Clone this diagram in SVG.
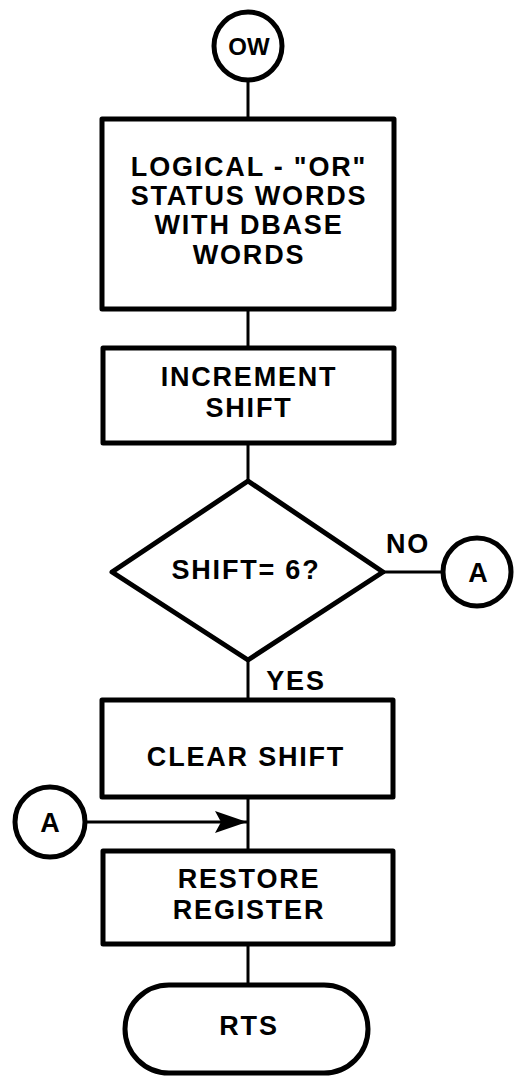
<svg xmlns="http://www.w3.org/2000/svg" width="516" height="1077" viewBox="0 0 516 1077">
<defs>
<style>
.shape{fill:#fff;stroke:#000;stroke-width:5;stroke-linejoin:round}
.conn{fill:none;stroke:#000;stroke-width:3}
text{font-family:"Liberation Sans",Arial,sans-serif;font-weight:bold;font-size:27px;letter-spacing:1.8px;fill:#000;text-anchor:middle}
</style>
<marker id="arrow" markerWidth="34" markerHeight="24" refX="32" refY="12" orient="auto" markerUnits="userSpaceOnUse">
<path d="M0,1 L32,12 L0,23 L6,12 Z" fill="#000"/>
</marker>
</defs>
<rect width="516" height="1077" fill="#fff"/>
<g id="connectors">
<line class="conn" x1="248" y1="80" x2="248" y2="119"/>
<line class="conn" x1="248" y1="309" x2="248" y2="348"/>
<line class="conn" x1="248" y1="443" x2="248" y2="481"/>
<line class="conn" x1="248" y1="660" x2="248" y2="700"/>
<line class="conn" x1="248" y1="797" x2="248" y2="851"/>
<line class="conn" x1="248" y1="944" x2="248" y2="985"/>
<line class="conn" x1="383" y1="572" x2="442" y2="572"/>
<line class="conn" x1="86" y1="822" x2="247" y2="822" marker-end="url(#arrow)"/>
<text x="408" y="553">NO</text>
<text x="296" y="690">YES</text>
</g>
<g id="ow">
<circle class="shape" cx="248" cy="46" r="34"/>
<text x="249" y="55" style="font-size:24px;letter-spacing:0">OW</text>
</g>
<g id="logical-or">
<rect class="shape" x="102" y="119" width="292" height="190"/>
<text x="249" y="176">LOGICAL - "OR"</text>
<text x="249" y="205">STATUS WORDS</text>
<text x="249" y="234">WITH DBASE</text>
<text x="249" y="264">WORDS</text>
</g>
<g id="increment-shift">
<rect class="shape" x="103" y="348" width="291" height="95"/>
<text x="249" y="386">INCREMENT</text>
<text x="249" y="417">SHIFT</text>
</g>
<g id="decision">
<polygon class="shape" points="248,481 383,572 248,660 112,572"/>
<text x="246" y="579">SHIFT= 6?</text>
</g>
<g id="a-right">
<circle class="shape" cx="477" cy="572" r="34"/>
<text x="478" y="582" style="letter-spacing:0">A</text>
</g>
<g id="clear-shift">
<rect class="shape" x="102" y="700" width="291" height="97"/>
<text x="246" y="766">CLEAR SHIFT</text>
</g>
<g id="a-left">
<circle class="shape" cx="50" cy="822" r="35"/>
<text x="50" y="832" style="letter-spacing:0">A</text>
</g>
<g id="restore-register">
<rect class="shape" x="103" y="851" width="290" height="93"/>
<text x="249" y="888">RESTORE</text>
<text x="249" y="919">REGISTER</text>
</g>
<g id="rts">
<rect class="shape" x="125" y="985" width="243" height="88" rx="44" ry="44"/>
<text x="249" y="1035">RTS</text>
</g>
</svg>
